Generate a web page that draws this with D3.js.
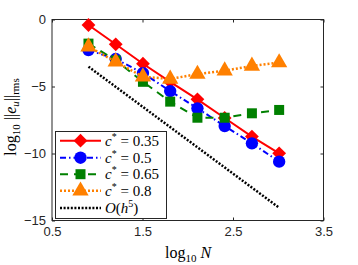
<!DOCTYPE html>
<meta charset="utf-8">
<style>
body { margin: 0; background: white; }
text { font-family: "Liberation Sans", Arial, sans-serif; }
.math { font-family: "Liberation Serif", "DejaVu Serif", serif; }
</style>
<body>
<script src="https://d3js.org/d3.v7.min.js"></script>
<script>
var width = 358,
    height = 265;

// log10 N for N = 8 ... 1024
var logN = [0.903, 1.204, 1.505, 1.806, 2.107, 2.408, 2.709, 3.010];

var err035 = [-0.41, -1.85, -3.30, -4.65, -5.96, -7.35, -8.74, -9.99];
var err05  = [-2.28, -2.95, -4.00, -5.34, -6.63, -7.95, -9.24, -10.61];
var err065 = [-1.80, -3.05, -4.65, -6.13, -7.33, -7.33, -7.00, -6.75];
var err08  = [-2.03, -3.15, -4.27, -4.44, -4.07, -3.82, -3.47, -3.22];

var refX = [0.903, 3.010];
var refY = [-3.52, -14.05];

var xTicks = [0.5, 1.5, 2.5, 3.5];
var yTicks = [0, -5, -10, -15];

var series = [
  {c: "0.35", y: err035, color: "#ff0000", dash: null, width: 2, sym: "diamond"},
  {c: "0.5", y: err05, color: "#0000ff", dash: "6,3,1.5,3", width: 2, sym: "circle"},
  {c: "0.65", y: err065, color: "#008000", dash: "8,6", width: 2, sym: "square"},
  {c: "0.8", y: err08, color: "#ff8000", dash: "2,2", width: 2.5, sym: "triangle"}
];

var x = d3.scaleLinear().domain([0.5, 3.5]).range([52, 323.5]);
var y = d3.scaleLinear().domain([-15, 0]).range([220.5, 19.5]);

var svg = d3.select("body").append("svg")
    .attr("width", width)
    .attr("height", height);

function marker(sel, type, color) {
  var gen;
  if (type === "circle") gen = d3.symbol().type(d3.symbolCircle).size(120);
  else if (type === "square") gen = d3.symbol().type(d3.symbolSquare).size(100);
  else if (type === "diamond") gen = d3.symbol().type(d3.symbolSquare).size(95);
  else gen = d3.symbol().type(d3.symbolTriangle).size(115);
  sel.attr("d", gen)
     .attr("fill", color)
     .attr("stroke", "none");
  if (type === "diamond") {
    sel.attr("transform", function(d) {
      return "translate(" + d[0] + "," + d[1] + ") rotate(45)";
    });
  } else {
    sel.attr("transform", function(d) {
      return "translate(" + d[0] + "," + d[1] + ")";
    });
  }
}

// axes box
svg.append("rect")
    .attr("x", x(0.5)).attr("y", y(0))
    .attr("width", x(3.5) - x(0.5)).attr("height", y(-15) - y(0))
    .attr("fill", "white").attr("stroke", "#262626").attr("stroke-width", 1);

svg.append("g")
    .attr("transform", "translate(0," + y(-15) + ")")
    .call(d3.axisBottom(x).tickValues(xTicks).tickFormat(d3.format("")).tickSize(-3).tickPadding(6));
svg.append("g")
    .attr("transform", "translate(0," + y(0) + ")")
    .call(d3.axisTop(x).tickValues(xTicks).tickFormat("").tickSize(-3));
svg.append("g")
    .attr("transform", "translate(" + x(0.5) + ",0)")
    .call(d3.axisLeft(y).tickValues(yTicks).tickFormat(d3.format("")).tickSize(-3).tickPadding(6));
svg.append("g")
    .attr("transform", "translate(" + x(3.5) + ",0)")
    .call(d3.axisRight(y).tickValues(yTicks).tickFormat("").tickSize(-3));

svg.selectAll(".domain").remove();
svg.selectAll(".tick line").attr("stroke", "#262626");
svg.selectAll(".tick text")
    .attr("fill", "#262626")
    .style("font-size", "13px")
    .style("font-family", "Liberation Sans, Arial, sans-serif");

var line = d3.line().x(function(d) { return x(d[0]); }).y(function(d) { return y(d[1]); });

series.forEach(function(s) {
  var pts = logN.map(function(v, i) { return [v, s.y[i]]; });
  svg.append("path")
      .datum(pts)
      .attr("d", line)
      .attr("fill", "none")
      .attr("stroke", s.color)
      .attr("stroke-width", s.width)
      .attr("stroke-dasharray", s.dash);
  svg.selectAll(null)
      .data(pts.map(function(p) { return [x(p[0]), y(p[1])]; }))
      .enter().append("path")
      .call(marker, s.sym, s.color);
});

// O(h^5) reference
svg.append("path")
    .datum(refX.map(function(v, i) { return [v, refY[i]]; }))
    .attr("d", line)
    .attr("fill", "none")
    .attr("stroke", "black")
    .attr("stroke-width", 2.5)
    .attr("stroke-dasharray", "2,1.6");

// legend
var lg = svg.append("g");
lg.append("rect")
    .attr("x", 55.5).attr("y", 131.5)
    .attr("width", 111).attr("height", 87)
    .attr("fill", "white").attr("stroke", "#262626").attr("stroke-width", 1);

var rowY = [140.7, 157.7, 174.2, 190.8, 208];
series.forEach(function(s, i) {
  var yy = rowY[i];
  lg.append("line")
      .attr("x1", 60).attr("x2", 101).attr("y1", yy).attr("y2", yy)
      .attr("stroke", s.color).attr("stroke-width", s.width)
      .attr("stroke-dasharray", s.dash);
  lg.append("path").datum([80.5, yy]).call(marker, s.sym, s.color);
  var t = lg.append("text")
      .attr("class", "math")
      .attr("x", 105).attr("y", yy + 5)
      .style("font-size", "15px")
      .attr("fill", "black");
  t.append("tspan").style("font-style", "italic").text("c");
  t.append("tspan").attr("dy", -6).style("font-size", "10px").text("*");
  t.append("tspan").attr("dy", 6).text(" = " + s.c);
});
lg.append("line")
    .attr("x1", 60).attr("x2", 101).attr("y1", rowY[4]).attr("y2", rowY[4])
    .attr("stroke", "black").attr("stroke-width", 2.5)
    .attr("stroke-dasharray", "2,1.6");
var ot = lg.append("text")
    .attr("class", "math")
    .attr("x", 105).attr("y", rowY[4] + 5)
    .style("font-size", "15px");
ot.append("tspan").style("font-style", "italic").text("O");
ot.append("tspan").text("(");
ot.append("tspan").style("font-style", "italic").text("h");
ot.append("tspan").attr("dy", -6).style("font-size", "10px").text("5");
ot.append("tspan").attr("dy", 6).text(")");

// axis labels
var xl = svg.append("text")
    .attr("class", "math")
    .attr("x", 188).attr("y", 258)
    .attr("text-anchor", "middle")
    .style("font-size", "16px");
xl.append("tspan").text("log");
xl.append("tspan").attr("dy", 4).style("font-size", "11px").text("10");
xl.append("tspan").attr("dy", -4).text(" ");
xl.append("tspan").style("font-style", "italic").text("N");

var yl = svg.append("text")
    .attr("class", "math")
    .attr("transform", "translate(16,117) rotate(-90)")
    .attr("text-anchor", "middle")
    .style("font-size", "16px");
yl.append("tspan").text("log");
yl.append("tspan").attr("dy", 4).style("font-size", "11px").text("10");
yl.append("tspan").attr("dy", -4).text(" ||");
yl.append("tspan").style("font-style", "italic").text("e");
yl.append("tspan").attr("dy", 3).style("font-size", "11px").style("font-style", "italic").text("u");
yl.append("tspan").attr("dy", -3).text("||");
yl.append("tspan").attr("dy", 3).style("font-size", "11px").text("rms");
</script>
</body>
</html>
